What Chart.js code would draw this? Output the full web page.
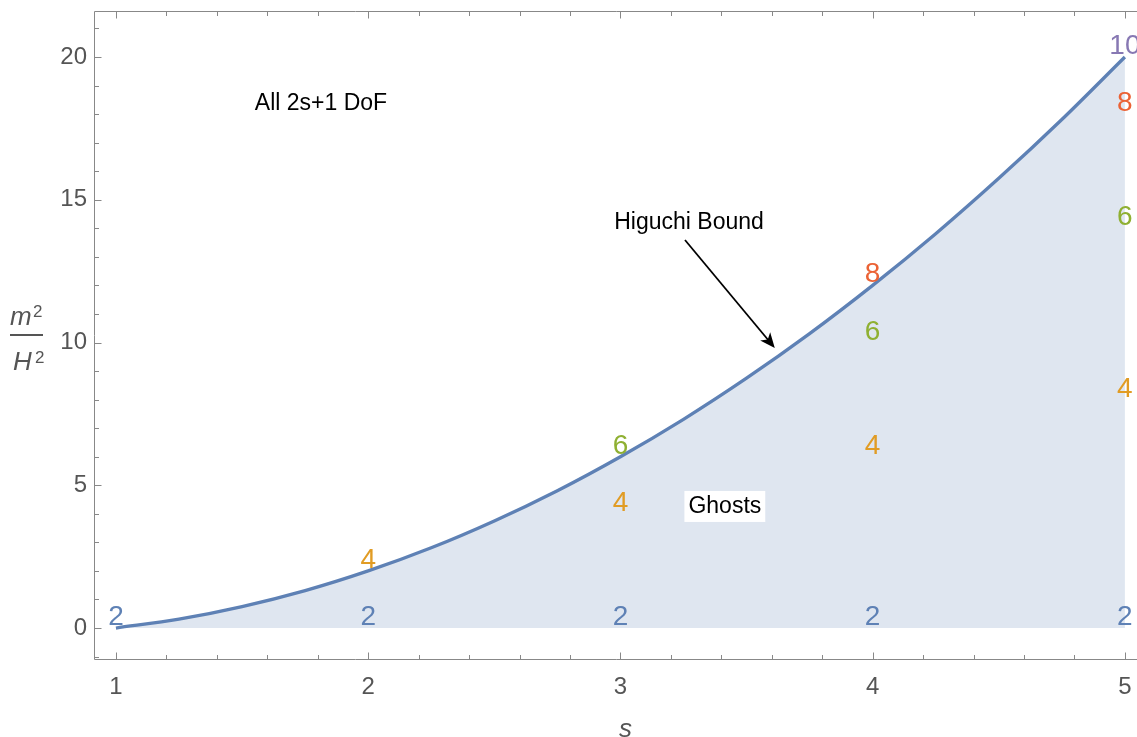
<!DOCTYPE html>
<html>
<head>
<meta charset="utf-8">
<script src="https://cdn.jsdelivr.net/npm/chart.js@4"></script>
<style>
  html, body { margin: 0; padding: 0; background: #fff; }
  canvas { display: block; }
</style>
</head>
<body>
<canvas id="myChart" width="1137" height="737"></canvas>
<script>
// Higuchi bound, m^2/H^2 at each s
const boundS = [1, 1.25, 1.5, 1.75, 2, 2.25, 2.5, 2.75, 3, 3.25, 3.5, 3.75, 4, 4.25, 4.5, 4.75, 5];
const boundV = [0, 0.31, 0.75, 1.31, 2, 2.81, 3.75, 4.81, 6, 7.31, 8.75, 10.31, 12, 13.81, 15.75, 17.81, 20];

// number labels placed at the partially massless points
const dofS = [1, 2, 2, 3, 3, 3, 4, 4, 4, 4, 5, 5, 5, 5, 5];
const dofV = [0, 0, 2, 0, 4, 6, 0, 6, 10, 12, 0, 8, 14, 18, 20];
const dofText = ["2", "2", "4", "2", "4", "6", "2", "4", "6", "8", "2", "4", "6", "8", "10"];

const xTicks = [1, 2, 3, 4, 5];
const yTicks = [0, 5, 10, 15, 20];

const dofColors = {"2": "#5e81b5", "4": "#e19c24", "6": "#8fb032", "8": "#eb6235", "10": "#8778b3"};
const FONT = "'Liberation Sans', Arial, sans-serif";
const AXIS_GRAY = "#888888";
const TEXT_GRAY = "#555555";

const points = boundS.map((s, i) => ({x: s, y: boundV[i]}));

// annotation placement (data coords)
const notes = [
  {text: "All 2s+1 DoF", s: 1.813, v: 18.35, box: false},
  {text: "Higuchi Bound", s: 3.272, v: 14.19, box: false},
  {text: "Ghosts", s: 3.414, v: 4.24, box: true}
];
const arrowFrom = [3.256, 13.59];
const arrowTo = [3.612, 9.81];

const decorations = {
  id: "decorations",
  afterDatasetsDraw(chart) {
    const ctx = chart.ctx;
    const x = chart.scales.x, y = chart.scales.y;
    ctx.save();

    // dof numbers
    ctx.font = "28px " + FONT;
    ctx.textAlign = "center";
    ctx.textBaseline = "alphabetic";
    dofText.forEach((t, i) => {
      ctx.fillStyle = dofColors[t];
      ctx.fillText(t, x.getPixelForValue(dofS[i]), y.getPixelForValue(dofV[i]) - 3);
    });

    // text notes
    ctx.font = "23px " + FONT;
    ctx.textBaseline = "middle";
    notes.forEach(n => {
      const px = x.getPixelForValue(n.s), py = y.getPixelForValue(n.v);
      if (n.box) {
        const w = ctx.measureText(n.text).width;
        ctx.fillStyle = "#ffffff";
        ctx.fillRect(px - w / 2 - 4, py - 16, w + 8, 31);
      }
      ctx.fillStyle = "#000000";
      ctx.fillText(n.text, px, py);
    });

    // arrow
    const x0 = x.getPixelForValue(arrowFrom[0]), y0 = y.getPixelForValue(arrowFrom[1]);
    const x1 = x.getPixelForValue(arrowTo[0]), y1 = y.getPixelForValue(arrowTo[1]);
    const ang = Math.atan2(y1 - y0, x1 - x0);
    ctx.strokeStyle = "#000";
    ctx.lineWidth = 1.8;
    ctx.beginPath();
    ctx.moveTo(x0, y0);
    ctx.lineTo(x1 - 8 * Math.cos(ang), y1 - 8 * Math.sin(ang));
    ctx.stroke();
    ctx.translate(x1, y1);
    ctx.rotate(ang);
    ctx.fillStyle = "#000";
    ctx.beginPath();
    ctx.moveTo(0, 0);
    ctx.lineTo(-15, -6.5);
    ctx.lineTo(-11, 0);
    ctx.lineTo(-15, 6.5);
    ctx.closePath();
    ctx.fill();
    ctx.restore();
  },
  afterDraw(chart) {
    const ctx = chart.ctx;
    const a = chart.chartArea;
    const x = chart.scales.x, y = chart.scales.y;
    ctx.save();
    ctx.strokeStyle = AXIS_GRAY;
    ctx.lineWidth = 1;
    const L = Math.round(a.left) - 0.5, T = Math.round(a.top) - 0.5, B = Math.round(a.bottom) - 0.5;
    ctx.beginPath();
    ctx.moveTo(a.right + 5, T); ctx.lineTo(L, T); ctx.lineTo(L, B); ctx.lineTo(a.right + 5, B);
    ctx.stroke();

    // ticks pointing into the frame
    ctx.beginPath();
    for (let k = 0; k <= 60; k++) {
      const v = Math.round(k * 2) / 10;
      if (v < x.min || v > x.max) continue;
      const px = Math.round(x.getPixelForValue(v)) + 0.5;
      const len = Number.isInteger(v) ? 7 : 4.5;
      ctx.moveTo(px, B); ctx.lineTo(px, B - len);
      ctx.moveTo(px, T); ctx.lineTo(px, T + len);
    }
    for (let v = -1; v <= 21; v++) {
      const py = Math.round(y.getPixelForValue(v)) + 0.5;
      const len = v % 5 === 0 ? 7 : 4.5;
      ctx.moveTo(L, py); ctx.lineTo(L + len, py);
    }
    ctx.stroke();

    // axis titles
    ctx.fillStyle = TEXT_GRAY;
    ctx.textBaseline = "alphabetic";
    ctx.textAlign = "center";
    ctx.font = "italic 26px " + FONT;
    ctx.fillText("s", x.getPixelForValue(3.02), 737);

    const barY = 335;
    ctx.textAlign = "left";
    ctx.font = "italic 26px " + FONT;
    ctx.fillText("m", 10, barY - 10);
    ctx.fillText("H", 13, barY + 35);
    ctx.font = "17px " + FONT;
    ctx.fillText("2", 33, barY - 18);
    ctx.fillText("2", 35, barY + 28);
    ctx.fillRect(10, barY - 1, 33, 2);
    ctx.restore();
  }
};

new Chart("myChart", {
  type: "line",
  data: {
    datasets: [{
      data: points,
      borderColor: "#5e81b5",
      borderWidth: 3.3,
      backgroundColor: "rgba(94,129,181,0.2)",
      fill: "origin",
      pointRadius: 0,
      tension: 0,
      cubicInterpolationMode: "monotone"
    }]
  },
  options: {
    responsive: false,
    animation: false,
    devicePixelRatio: 1,
    layout: {padding: {top: 12, right: 0, left: 0, bottom: 0}},
    plugins: {legend: {display: false}, tooltip: {enabled: false}},
    scales: {
      x: {
        type: "linear",
        min: 0.917,
        max: 5.048,
        grid: {display: false, drawTicks: false},
        border: {display: false},
        ticks: {color: TEXT_GRAY, font: {size: 24, family: FONT}, padding: 13},
        afterBuildTicks: axis => { axis.ticks = xTicks.map(v => ({value: v})); },
        afterFit: axis => { axis.height = 77; axis.paddingLeft = 0; axis.paddingRight = 0; }
      },
      y: {
        type: "linear",
        min: -1.12,
        max: 21.576,
        grid: {display: false, drawTicks: false},
        border: {display: false},
        ticks: {color: TEXT_GRAY, font: {size: 24, family: FONT}, padding: 8},
        afterBuildTicks: axis => { axis.ticks = yTicks.map(v => ({value: v})); },
        afterFit: axis => { axis.width = 95; axis.paddingTop = 0; axis.paddingBottom = 0; }
      }
    }
  },
  plugins: [decorations]
});
</script>
</body>
</html>
